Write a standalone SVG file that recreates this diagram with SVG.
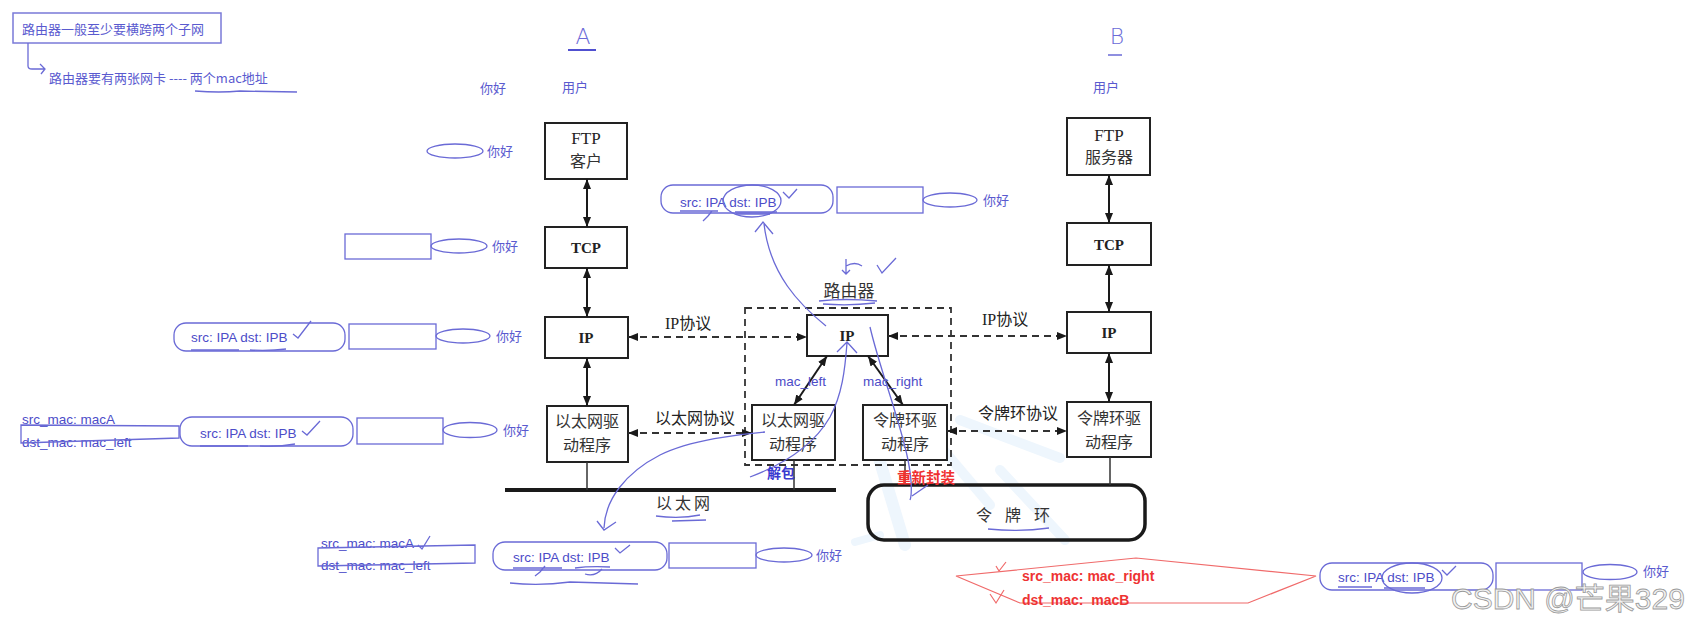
<svg xmlns="http://www.w3.org/2000/svg" width="1700" height="626" viewBox="0 0 1700 626">
<defs>
<marker id="ah" viewBox="0 0 10 8" refX="10" refY="4" markerWidth="10" markerHeight="8" markerUnits="userSpaceOnUse" orient="auto-start-reverse">
<path d="M0,0 L10,4 L0,8 Z" fill="#1a1a1a"/>
</marker>
<style>
.box{fill:#fff;stroke:#222;stroke-width:2}
.serif{font-family:"Liberation Serif","Noto Sans CJK SC",serif;fill:#222}
.cjk{font-family:"Noto Sans CJK SC",sans-serif;fill:#333}
.hand{font-family:"Noto Sans CJK SC","Liberation Sans",sans-serif;fill:#5a5acf;font-size:13px}
.lat{font-family:"Liberation Sans","Noto Sans CJK SC",sans-serif;fill:#4c4cc8;font-size:13.5px}
.bl{fill:none;stroke:#6a6ad6;stroke-width:1.3}
.arr{stroke:#1a1a1a;stroke-width:2;fill:none}
.dash{stroke:#333;stroke-width:1.8;stroke-dasharray:7 5;fill:none}
.red{font-family:"Liberation Sans","Noto Sans CJK SC",sans-serif;fill:#ee3333;font-size:14px;font-weight:bold;white-space:pre}
.wm{fill:none;stroke:#eef6fd;stroke-linecap:round}
</style>
</defs>
<rect width="1700" height="626" fill="#ffffff"/>

<!-- faint watermark logo -->
<g id="watermark">
<path class="wm" stroke-width="12" d="M878,455 L905,545"/>
<path class="wm" stroke-width="10" d="M935,440 L990,505"/>
<path class="wm" stroke-width="10" d="M960,420 L1060,458"/>
<path class="wm" stroke-width="10" d="M1000,470 L1065,540"/>
<path class="wm" stroke-width="8" d="M855,542 L880,535"/>
</g>

<!-- top-left notes -->
<g id="note1">
<rect x="13" y="13" width="208" height="30" fill="none" stroke="#7a7ad8" stroke-width="1.5"/>
<text class="hand" x="22" y="34">路由器一般至少要横跨两个子网</text>
</g>
<g id="note2">
<path class="bl" d="M28,43 L28,66 Q28,69 32,69 L44,69 M40,64 L45,69 L41,74"/>
<text class="hand" x="49" y="83">路由器要有两张网卡 ---- 两个mac地址</text>
<path class="bl" d="M195,91 Q220,93 240,91 L297,92"/>
</g>

<!-- host labels -->
<g id="labelA">
<text x="583" y="44" text-anchor="middle" font-family="DejaVu Sans, sans-serif" font-size="22" font-weight="200" fill="#6b6bd8">A</text>
<path d="M568,50 L596,50" stroke="#5050d0" stroke-width="2"/>
<text class="hand" x="562" y="92">用户</text>
<text class="hand" x="480" y="93">你好</text>
</g>
<g id="labelB">
<text x="1117" y="44" text-anchor="middle" font-family="DejaVu Sans, sans-serif" font-size="22" font-weight="200" fill="#6b6bd8">B</text>
<path d="M1108,55 L1122,55" stroke="#6a6ad6" stroke-width="1.5"/>
<text class="hand" x="1093" y="92">用户</text>
</g>

<!-- Left host stack -->
<g id="ftp-client">
<rect class="box" x="545" y="123" width="82" height="56"/>
<text class="serif" x="586" y="144" text-anchor="middle" font-size="17">FTP</text>
<text class="cjk" x="586" y="167" text-anchor="middle" font-size="16">客户</text>
</g>
<g id="tcp-a">
<rect class="box" x="545" y="227" width="82" height="41"/>
<text class="serif" x="586" y="253" text-anchor="middle" font-size="15" font-weight="bold">TCP</text>
</g>
<g id="ip-a">
<rect class="box" x="545" y="317" width="83" height="41"/>
<text class="serif" x="586" y="343" text-anchor="middle" font-size="15" font-weight="bold">IP</text>
</g>
<g id="eth-a">
<rect class="box" x="547" y="406" width="81" height="56"/>
<text class="cjk" x="587" y="427" text-anchor="middle" font-size="16">以太网驱</text>
<text class="cjk" x="587" y="451" text-anchor="middle" font-size="16">动程序</text>
</g>

<!-- Router -->
<g id="router">
<rect x="745" y="308" width="206" height="157" fill="none" class="dash"/>
<text class="cjk" x="849" y="297" text-anchor="middle" font-size="17">路由器</text>
<path class="bl" d="M819,301 Q845,298 877,301 M823,304 Q850,306 875,303"/>
<path class="bl" d="M846,259 L846,274 M846,266 Q855,261 862,266 M842,270 L846,274 L850,270 M877,265 L882,273 L896,258"/>
</g>
<g id="ip-r">
<rect class="box" x="807" y="315" width="81" height="41"/>
<text class="serif" x="847" y="341" text-anchor="middle" font-size="15" font-weight="bold">IP</text>
</g>
<g id="eth-r">
<rect class="box" x="752" y="405" width="83" height="55"/>
<text class="cjk" x="793" y="426" text-anchor="middle" font-size="16">以太网驱</text>
<text class="cjk" x="793" y="450" text-anchor="middle" font-size="16">动程序</text>
</g>
<g id="tr-r">
<rect class="box" x="863" y="405" width="84" height="55"/>
<text class="cjk" x="905" y="426" text-anchor="middle" font-size="16">令牌环驱</text>
<text class="cjk" x="905" y="450" text-anchor="middle" font-size="16">动程序</text>
</g>

<!-- Right host stack -->
<g id="ftp-server">
<rect class="box" x="1067" y="118" width="83" height="57"/>
<text class="serif" x="1109" y="141" text-anchor="middle" font-size="17">FTP</text>
<text class="cjk" x="1109" y="163" text-anchor="middle" font-size="16">服务器</text>
</g>
<g id="tcp-b">
<rect class="box" x="1067" y="223" width="84" height="42"/>
<text class="serif" x="1109" y="250" text-anchor="middle" font-size="15" font-weight="bold">TCP</text>
</g>
<g id="ip-b">
<rect class="box" x="1067" y="312" width="84" height="41"/>
<text class="serif" x="1109" y="338" text-anchor="middle" font-size="15" font-weight="bold">IP</text>
</g>
<g id="tr-b">
<rect class="box" x="1067" y="402" width="84" height="55"/>
<text class="cjk" x="1109" y="424" text-anchor="middle" font-size="16">令牌环驱</text>
<text class="cjk" x="1109" y="448" text-anchor="middle" font-size="16">动程序</text>
</g>

<!-- networks -->
<g id="ethernet">
<line x1="505" y1="490" x2="836" y2="490" stroke="#1a1a1a" stroke-width="4"/>
<text class="cjk" x="656" y="509" font-size="16" letter-spacing="3">以太网</text>
<path class="bl" d="M656,516 Q680,519 700,515 M672,521 L706,520"/>
</g>
<g id="token-ring">
<rect x="868" y="485" width="277" height="55" rx="16" fill="none" stroke="#1a1a1a" stroke-width="3.5"/>
<text class="cjk" x="976" y="521" font-size="16" letter-spacing="13">令牌环</text>
<path class="bl" d="M988,529 Q1020,532 1049,528"/>
</g>

<!-- connectors -->
<g id="connectors">
<line class="arr" x1="587" y1="179" x2="587" y2="227" marker-start="url(#ah)" marker-end="url(#ah)"/>
<line class="arr" x1="587" y1="268" x2="587" y2="317" marker-start="url(#ah)" marker-end="url(#ah)"/>
<line class="arr" x1="587" y1="358" x2="587" y2="406" marker-start="url(#ah)" marker-end="url(#ah)"/>
<line class="arr" x1="1109" y1="175" x2="1109" y2="223" marker-start="url(#ah)" marker-end="url(#ah)"/>
<line class="arr" x1="1109" y1="265" x2="1109" y2="312" marker-start="url(#ah)" marker-end="url(#ah)"/>
<line class="arr" x1="1109" y1="353" x2="1109" y2="402" marker-start="url(#ah)" marker-end="url(#ah)"/>
<line class="arr" x1="827" y1="356" x2="794" y2="405" marker-start="url(#ah)" marker-end="url(#ah)"/>
<line class="arr" x1="868" y1="356" x2="903" y2="405" marker-start="url(#ah)" marker-end="url(#ah)"/>
<line class="dash" x1="628" y1="337" x2="807" y2="337" marker-start="url(#ah)" marker-end="url(#ah)"/>
<line class="dash" x1="628" y1="433" x2="752" y2="433" marker-start="url(#ah)" marker-end="url(#ah)"/>
<line class="dash" x1="888" y1="336" x2="1067" y2="336" marker-start="url(#ah)" marker-end="url(#ah)"/>
<line class="dash" x1="947" y1="431" x2="1067" y2="431" marker-start="url(#ah)" marker-end="url(#ah)"/>
<line x1="587" y1="462" x2="587" y2="490" stroke="#333" stroke-width="1.5"/>
<line x1="794" y1="460" x2="794" y2="490" stroke="#333" stroke-width="1.5"/>
<line x1="905" y1="460" x2="905" y2="485" stroke="#333" stroke-width="1.5"/>
<line x1="1110" y1="457" x2="1110" y2="485" stroke="#333" stroke-width="1.5"/>
<text class="serif" x="665" y="329" font-size="16">IP协议</text>
<text class="serif" x="655" y="424" font-size="16">以太网协议</text>
<text class="serif" x="982" y="325" font-size="16">IP协议</text>
<text class="serif" x="978" y="419" font-size="16">令牌环协议</text>
<text class="lat" x="775" y="386" font-size="14">mac_left</text>
<text class="lat" x="863" y="386" font-size="14">mac_right</text>
</g>

<!-- hand-drawn flow curves -->
<g id="annotations">
<path class="bl" d="M826,326 C800,305 770,275 764,224 M755,232 L763,222 L773,234"/>
<path class="bl" d="M765,432 C740,434 690,440 660,455 C625,473 605,500 604,528 M597,521 L604,530 L616,522"/>
<path class="bl" d="M750,477 C790,462 815,443 830,417 C842,395 845,370 847,343 M837,352 L847,342 L857,353"/>
<path class="bl" d="M870,327 C880,370 900,420 908,460 C912,480 912,495 910,500 M912,496 L928,485"/>
<text x="767" y="478" font-family="Noto Sans CJK SC, sans-serif" font-size="14" font-weight="bold" fill="#3a3ad0">解包</text>
<text x="897" y="483" font-family="Noto Sans CJK SC, sans-serif" font-size="14.5" font-weight="bold" fill="#f03030">重新封装</text>
</g>

<!-- packet: router top -->
<g id="pkt-top">
<rect class="bl" x="661" y="185" width="172" height="28" rx="12"/>
<text class="lat" x="680" y="207">src: IPA dst: IPB</text>
<ellipse class="bl" cx="752" cy="201" rx="29" ry="16"/>
<path class="bl" d="M783,192 L789,198 L797,189 M680,211 L718,211 M735,212 L777,212 M736,214 L770,214 M703,221 L708,216 L712,211"/>
<rect class="bl" x="837" y="187" width="86" height="26"/>
<ellipse class="bl" cx="950" cy="200" rx="27" ry="7"/>
<text class="hand" x="983" y="205">你好</text>
</g>

<!-- packet: app level -->
<g id="pkt-app">
<ellipse class="bl" cx="455" cy="151" rx="28" ry="7"/>
<text class="hand" x="487" y="156">你好</text>
</g>
<g id="pkt-tcp">
<rect class="bl" x="345" y="234" width="86" height="25"/>
<ellipse class="bl" cx="459" cy="246" rx="28" ry="7"/>
<text class="hand" x="492" y="251">你好</text>
</g>
<g id="pkt-ip">
<rect class="bl" x="174" y="323" width="171" height="28" rx="12"/>
<text class="lat" x="191" y="342">src: IPA dst: IPB</text>
<path class="bl" d="M191,350 L239,350 M250,350 Q270,351 286,349 M293,334 L298,338 L311,321"/>
<rect class="bl" x="349" y="324" width="87" height="25"/>
<ellipse class="bl" cx="463" cy="336" rx="27" ry="7"/>
<text class="hand" x="496" y="341">你好</text>
</g>
<g id="pkt-eth">
<text class="lat" x="22" y="424">src_mac: macA</text>
<text class="lat" x="22" y="447">dst_mac: mac_left</text>
<polygon class="bl" points="21,425 179,426 179,438 21,443"/>
<rect class="bl" x="180" y="417" width="173" height="29" rx="12"/>
<text class="lat" x="200" y="438">src: IPA dst: IPB</text>
<path class="bl" d="M200,446 L248,446 M260,446 Q278,447 295,444 M302,431 L307,435 L320,421"/>
<rect class="bl" x="357" y="418" width="86" height="26"/>
<ellipse class="bl" cx="470" cy="430" rx="27" ry="7.5"/>
<text class="hand" x="503" y="435">你好</text>
</g>

<!-- packet: on ethernet -->
<g id="pkt-ethernet">
<text class="lat" x="321" y="548">src_mac: macA</text>
<text class="lat" x="321" y="570">dst_mac: mac_left</text>
<path class="bl" d="M418,545 L422,549 L430,536 M318,548 L475,545 L475,563 L318,566 Z"/>
<rect class="bl" x="493" y="542" width="174" height="28" rx="12"/>
<text class="lat" x="513" y="562">src: IPA dst: IPB</text>
<path class="bl" d="M615,548 L620,553 L630,545 M513,568 L562,568 M575,568 Q590,566 610,567 M510,583 Q540,586 570,582 L638,584 M535,576 L540,572 L545,566 M585,574 Q595,577 602,569"/>
<rect class="bl" x="669" y="543" width="87" height="25"/>
<ellipse class="bl" cx="784" cy="555" rx="28" ry="7"/>
<text class="hand" x="816" y="560">你好</text>
</g>

<!-- packet: on token ring -->
<g id="pkt-ring">
<polygon points="956,576 1136,558 1316,576 1248,603 1020,603" fill="none" stroke="#f06a6a" stroke-width="1.2"/>
<text class="red" x="1022" y="581">src_mac: mac_right</text>
<text class="red" x="1022" y="605">dst_mac:  macB</text>
<path d="M996,566 L999,571 L1006,562 M990,594 L996,603 L1004,590" fill="none" stroke="#f06a6a" stroke-width="1.2"/>
<rect class="bl" x="1320" y="563" width="173" height="27" rx="12"/>
<text class="lat" x="1338" y="582">src: IPA dst: IPB</text>
<ellipse class="bl" cx="1412" cy="578" rx="30" ry="15"/>
<path class="bl" d="M1442,570 L1447,575 L1456,566 M1338,587 L1372,587 M1384,588 L1425,588"/>
<rect class="bl" x="1496" y="563" width="86" height="27"/>
<ellipse class="bl" cx="1610" cy="572" rx="27" ry="7.5"/>
<text class="hand" x="1643" y="576">你好</text>
</g>

<text x="1451" y="609" font-family="Liberation Sans, Noto Sans CJK SC, sans-serif" font-size="30" fill="#f2f2f2" stroke="#9a9a9a" stroke-width="0.8">CSDN @芒果329</text>
</svg>
